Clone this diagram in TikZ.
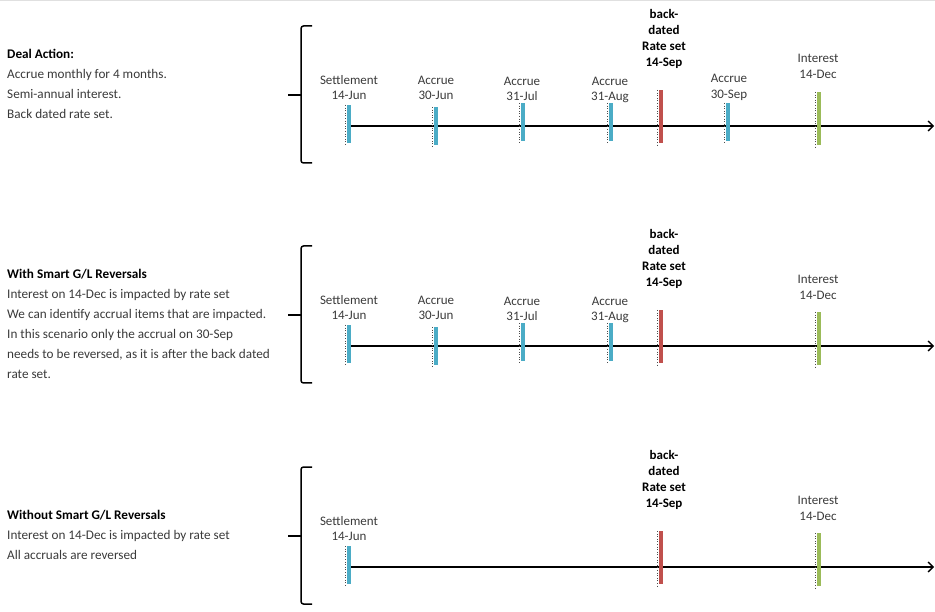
\documentclass[tikz,border=0pt]{standalone}
\usepackage{fontspec}
\setmainfont{Carlito}
\usetikzlibrary{arrows.meta}
\definecolor{tblue}{HTML}{4BACC6}
\definecolor{tred}{HTML}{C0504D}
\definecolor{tgreen}{HTML}{9BBB59}
\definecolor{ttext}{HTML}{3A3A3A}
\tikzset{
  tickbar/.style={rectangle, draw=none, minimum width=4pt, inner sep=0pt, outer sep=0pt},
  tickdots/.style={dotted, line width=0.6pt, black!70},
  lefttext/.style={anchor=mid west, inner sep=0pt, text=ttext, font=\fontsize{13.2}{15}\selectfont},
  ticklabel/.style={anchor=mid, inner sep=0pt, text=ttext, font=\fontsize{13}{15}\selectfont},
  boldlabel/.style={anchor=mid, inner sep=0pt, text=black, font=\fontsize{13}{15}\selectfont\bfseries},
  axisline/.style={line width=1.6pt, black, -{Straight Barb[length=5pt,width=10pt,line width=1.4pt]}},
  bracestyle/.style={line width=1.5pt, black, rounded corners=2.5pt},
}
\newcommand{\mytick}[6]{%
  \node[tickbar, fill=#6, minimum height=#5pt-#4pt] (#1-#2) at (#3,{(#4+#5)/2}) {};
  \draw[tickdots] ([xshift=-1.5pt]#1-#2.north west) -- ([xshift=-1.5pt,yshift=-3pt]#1-#2.south west);
}
\newcommand{\mybrace}[1]{%
  \coordinate (#1-bt) at (312,26);
  \coordinate (#1-bm) at (301,95);
  \coordinate (#1-bb) at (312,163);
  \coordinate (#1-btip) at (288,95);
  \draw[bracestyle] (#1-bt) -| (#1-bm) |- (#1-bb);
  \draw[bracestyle] (#1-bm) -- (#1-btip);
}
\begin{document}
\begin{tikzpicture}[x=1pt,y=-1pt]
\useasboundingbox (0,0) rectangle (935,612);
\draw[black!12, line width=1pt] (0,0.5) -- (935,0.5);

% ---------------- Section 1 ----------------
\begin{scope}
\mybrace{1}
\node[lefttext] (1-t0) at (7,56) {\bfseries\color{black}Deal Action:};
\node[lefttext] (1-t1) at (7,76) {Accrue monthly for 4 months.};
\node[lefttext] (1-t2) at (7,96) {Semi-annual interest.};
\node[lefttext] (1-t3) at (7,116) {Back dated rate set.};
\coordinate (1-axs) at (348,126);
\coordinate (1-axe) at (934,126);
\draw[axisline] (1-axs) -- (1-axe);
\mytick{1}{set}{348.5}{105}{143}{tblue}
\mytick{1}{jun}{435.5}{107}{145}{tblue}
\mytick{1}{jul}{523}{103}{141}{tblue}
\mytick{1}{aug}{611}{103}{141}{tblue}
\mytick{1}{rate}{661}{90}{143}{tred}
\mytick{1}{sep}{728}{103}{141}{tblue}
\mytick{1}{int}{819}{92}{145}{tgreen}
\node[ticklabel] (1-set-a) at (349,82) {Settlement};
\node[ticklabel] (1-set-b) at (349,97) {14-Jun};
\node[ticklabel] (1-jun-a) at (436,82) {Accrue};
\node[ticklabel] (1-jun-b) at (436,97) {30-Jun};
\node[ticklabel] (1-jul-a) at (522,83) {Accrue};
\node[ticklabel] (1-jul-b) at (522,98) {31-Jul};
\node[ticklabel] (1-aug-a) at (610,83) {Accrue};
\node[ticklabel] (1-aug-b) at (610,98) {31-Aug};
\node[boldlabel] (1-rate-a) at (664,16) {back-};
\node[boldlabel] (1-rate-b) at (664,32) {dated};
\node[boldlabel] (1-rate-c) at (664,48) {Rate set};
\node[boldlabel] (1-rate-d) at (664,64) {14-Sep};
\node[ticklabel] (1-sep-a) at (729,80) {Accrue};
\node[ticklabel] (1-sep-b) at (729,96) {30-Sep};
\node[ticklabel] (1-int-a) at (818,60) {Interest};
\node[ticklabel] (1-int-b) at (818,76) {14-Dec};
\end{scope}

% ---------------- Section 2 ----------------
\begin{scope}[shift={(0,220)}]
\mybrace{2}
\node[lefttext] (2-t0) at (7,56) {\bfseries\color{black}With Smart G/L Reversals};
\node[lefttext] (2-t1) at (7,76) {Interest on 14-Dec is impacted by rate set};
\node[lefttext] (2-t2) at (7,96) {We can identify accrual items that are impacted.};
\node[lefttext] (2-t3) at (7,116) {In this scenario only the accrual on 30-Sep};
\node[lefttext] (2-t4) at (7,136) {needs to be reversed, as it is after the back dated};
\node[lefttext] (2-t5) at (7,156) {rate set.};
\coordinate (2-axs) at (348,126);
\coordinate (2-axe) at (934,126);
\draw[axisline] (2-axs) -- (2-axe);
\mytick{2}{set}{348.5}{105}{143}{tblue}
\mytick{2}{jun}{435.5}{107}{145}{tblue}
\mytick{2}{jul}{523}{103}{141}{tblue}
\mytick{2}{aug}{611}{103}{141}{tblue}
\mytick{2}{rate}{661}{90}{143}{tred}
\mytick{2}{int}{819}{92}{145}{tgreen}
\node[ticklabel] (2-set-a) at (349,82) {Settlement};
\node[ticklabel] (2-set-b) at (349,97) {14-Jun};
\node[ticklabel] (2-jun-a) at (436,82) {Accrue};
\node[ticklabel] (2-jun-b) at (436,97) {30-Jun};
\node[ticklabel] (2-jul-a) at (522,83) {Accrue};
\node[ticklabel] (2-jul-b) at (522,98) {31-Jul};
\node[ticklabel] (2-aug-a) at (610,83) {Accrue};
\node[ticklabel] (2-aug-b) at (610,98) {31-Aug};
\node[boldlabel] (2-rate-a) at (664,16) {back-};
\node[boldlabel] (2-rate-b) at (664,32) {dated};
\node[boldlabel] (2-rate-c) at (664,48) {Rate set};
\node[boldlabel] (2-rate-d) at (664,64) {14-Sep};
\node[ticklabel] (2-int-a) at (818,61) {Interest};
\node[ticklabel] (2-int-b) at (818,77) {14-Dec};
\end{scope}

% ---------------- Section 3 ----------------
\begin{scope}[shift={(0,441)}]
\mybrace{3}
\node[lefttext] (3-t0) at (7,76) {\bfseries\color{black}Without Smart G/L Reversals};
\node[lefttext] (3-t1) at (7,96) {Interest on 14-Dec is impacted by rate set};
\node[lefttext] (3-t2) at (7,116) {All accruals are reversed};
\coordinate (3-axs) at (348,126);
\coordinate (3-axe) at (934,126);
\draw[axisline] (3-axs) -- (3-axe);
\mytick{3}{set}{348.5}{105}{143}{tblue}
\mytick{3}{rate}{661}{90}{143}{tred}
\mytick{3}{int}{819}{92}{145}{tgreen}
\node[ticklabel] (3-set-a) at (349,82) {Settlement};
\node[ticklabel] (3-set-b) at (349,97) {14-Jun};
\node[boldlabel] (3-rate-a) at (664,16) {back-};
\node[boldlabel] (3-rate-b) at (664,32) {dated};
\node[boldlabel] (3-rate-c) at (664,48) {Rate set};
\node[boldlabel] (3-rate-d) at (664,64) {14-Sep};
\node[ticklabel] (3-int-a) at (818,61) {Interest};
\node[ticklabel] (3-int-b) at (818,77) {14-Dec};
\end{scope}
\end{tikzpicture}
\end{document}
